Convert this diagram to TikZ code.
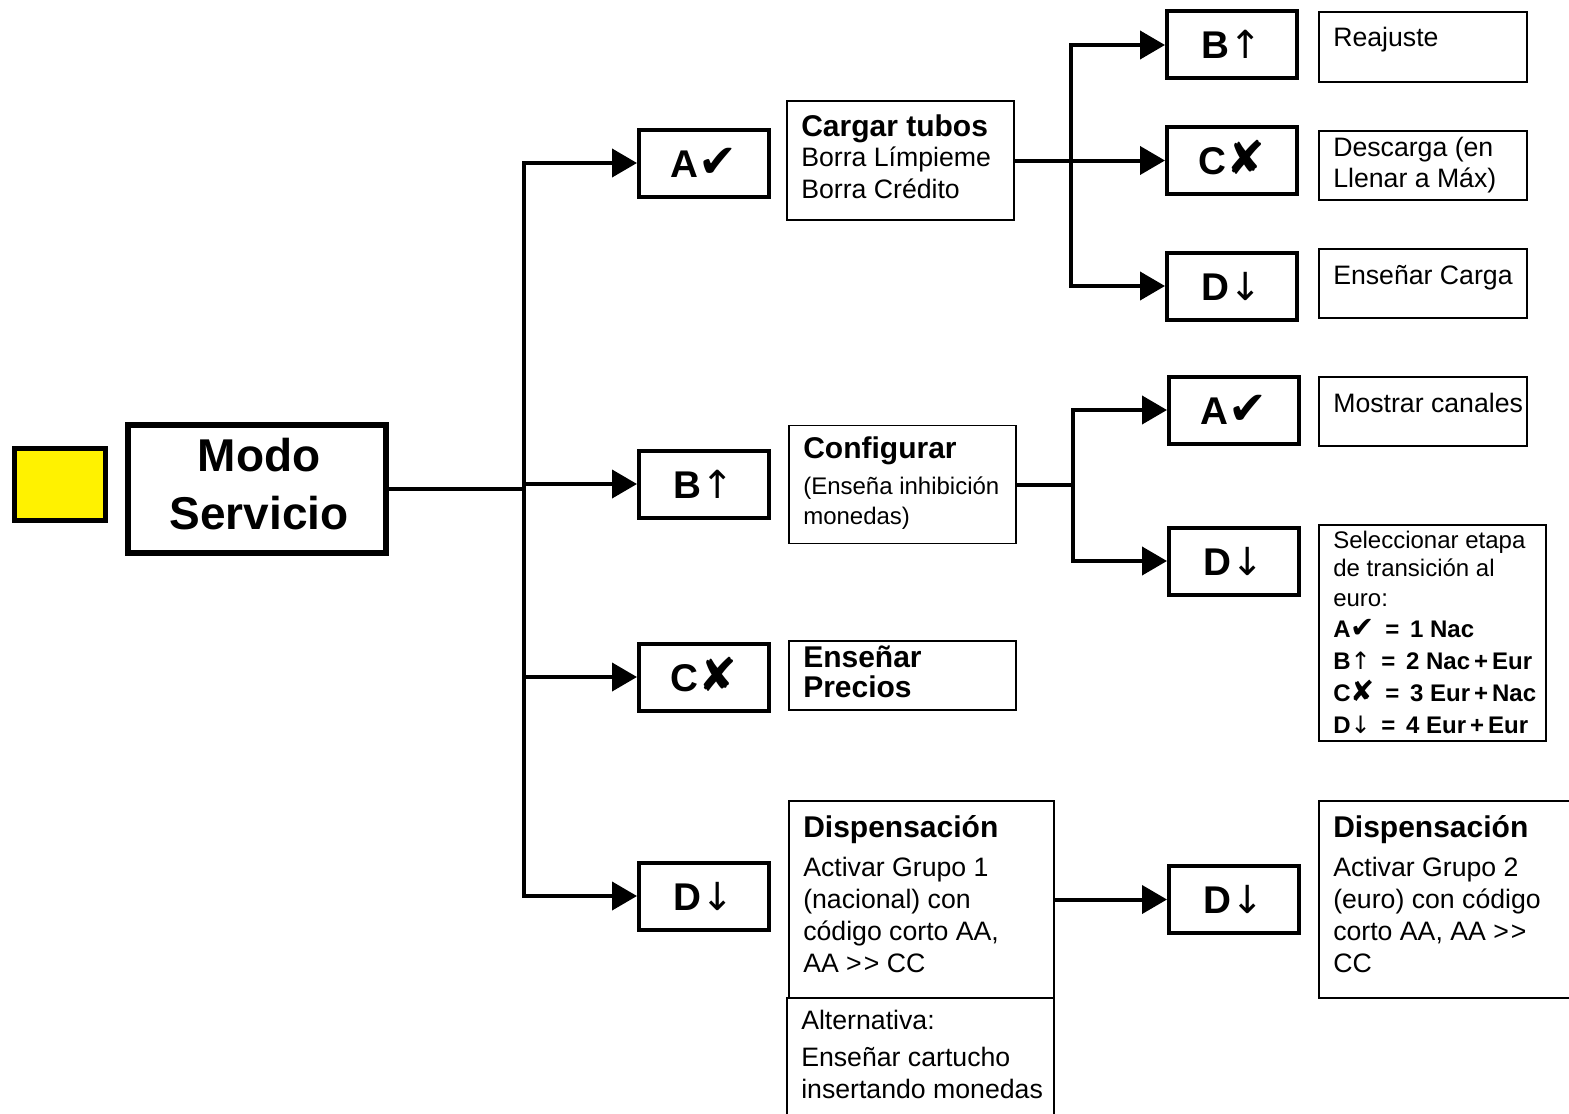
\documentclass[tikz,border=0pt]{standalone}
\usepackage{fontspec}
\setmainfont{Liberation Sans}
\newfontfamily\symfont[Scale=1.2]{DejaVu Sans}
\newfontfamily\arrfont{DejaVu Sans}
\usetikzlibrary{arrows.meta,calc}
\newcommand\fsz[1]{\fontsize{#1pt}{#1pt}\selectfont}
\newcommand\chk{{\symfont\mdseries ✔}}
\newcommand\crs{{\symfont\mdseries ✘}}
\newcommand\arrup{{\arrfont\mdseries ↑}}
\newcommand\arrdn{{\arrfont\mdseries ↓}}
\begin{document}
\begin{tikzpicture}[x=0.75pt,y=-0.75pt,line join=miter]
\tikzset{
  sz/.style 2 args={minimum width=#1*0.75pt, minimum height=#2*0.75pt},
  keybox/.style={draw, line width=3pt, sz={130}{67}, inner sep=0pt,
    text height=21pt, text depth=0pt, font=\fsz{29}\bfseries},
  infobox/.style={draw, line width=1.1pt, inner sep=0pt},
  ln/.style={anchor=base west, inner sep=0pt, font=\fsz{20}},
  hd/.style={anchor=base west, inner sep=0pt, font=\fsz{22.5}\bfseries},
  sm/.style={anchor=base west, inner sep=0pt, font=\fsz{18}},
  smb/.style={anchor=base west, inner sep=0pt, font=\fsz{18}\bfseries},
  conn/.style={line width=3pt},
  arr/.style={line width=3pt, -{Triangle[length=18.75pt,width=21pt]}},
}
\useasboundingbox (0,0) rectangle (1569,1113);

% start key and main mode box
\node[draw, fill=yellow, line width=3.75pt, sz={91}{72}] (start) at (60,484.5) {};
\node[draw, line width=4.5pt, sz={258}{128}, inner sep=0pt] (modo) at (257,489) {};
\node[inner sep=0pt, align=center, font=\fontsize{34.5pt}{43.5pt}\selectfont\bfseries]
  (modoT) at (259,484) {Modo\\Servicio};

% first level keys
\node[keybox] (ka) at (704,163) {A\chk};
\node[keybox] (kb) at (704,484) {B\arrup};
\node[keybox] (kc) at (704,677) {C\crs};
\node[keybox] (kd) at (704,896) {D\arrdn};

% first level descriptions
\node[infobox, sz={227}{119}] (tA) at (900.5,160.5) {};
\node[hd] (tA1) at (801,136) {Cargar tubos};
\node[ln] (tA2) at (801,166) {Borra Límpieme};
\node[ln] (tA3) at (801,198) {Borra Crédito};

\node[infobox, sz={227}{118}] (tB) at (902.5,484.5) {};
\node[hd] (tB1) at (803,458) {Configurar};
\node[sm] (tB2) at (803,494) {(Enseña inhibición};
\node[sm] (tB3) at (803,524) {monedas)};

\node[infobox, sz={227}{69}] (tC) at (902.5,675.5) {};
\node[hd] (tC1) at (803,667) {Enseñar};
\node[hd] (tC2) at (803,697) {Precios};

\node[infobox, sz={265}{197}] (tD) at (921.5,899.5) {};
\node[hd] (tD1) at (803,837) {Dispensación};
\node[ln] (tD2) at (803,876) {Activar Grupo 1};
\node[ln] (tD3) at (803,908) {(nacional) con};
\node[ln] (tD4) at (803,940) {código corto AA,};
\node[ln] (tD5) at (803,972) {AA >\kern1.5pt> CC};

\node[infobox, sz={267}{130}] (tE) at (920.5,1063) {};
\node[ln] (tE1) at (801,1029) {Alternativa:};
\node[ln] (tE2) at (801,1066) {Enseñar cartucho};
\node[ln] (tE3) at (801,1098) {insertando monedas};

% second level keys after "Cargar tubos"
\node[keybox] (k2b) at (1232,45) {B\arrup};
\node[keybox] (k2c) at (1232,160.5) {C\crs};
\node[keybox] (k2d) at (1232,286) {D\arrdn};

\node[infobox, sz={208}{70}] (r1) at (1423,47) {};
\node[ln] (r1a) at (1333,47) {Reajuste};
\node[infobox, sz={208}{69}] (r2) at (1423,165.5) {};
\node[ln] (r2a) at (1333,156) {Descarga (en};
\node[ln] (r2b) at (1333,187) {Llenar a Máx)};
\node[infobox, sz={208}{69}] (r3) at (1423,283.5) {};
\node[ln] (r3a) at (1333,284) {Enseñar Carga};

% second level keys after "Configurar"
\node[keybox] (k3a) at (1234,410) {A\chk};
\node[keybox] (k3d) at (1234,561) {D\arrdn};

\node[infobox, sz={208}{69}] (s1) at (1423,411.5) {};
\node[ln] (s1a) at (1333,412) {Mostrar canales};
\node[infobox, sz={227}{216}] (s2) at (1432.5,633) {};
\node[sm] (s2a) at (1333,548) {Seleccionar etapa};
\node[sm] (s2b) at (1333,576) {de transición al};
\node[sm] (s2c) at (1333,606) {euro:};
\node[smb] (s2d) at (1333,637) {A\chk\ \,=\ \,1 Nac};
\node[smb] (s2e) at (1333,669) {B\arrup\ \,=\ \,2 Nac\,+\,Eur};
\node[smb] (s2f) at (1333,701) {C\crs\ \,=\ \,3 Eur\,+\,Nac};
\node[smb] (s2g) at (1333,733) {D\arrdn\ \,=\ \,4 Eur\,+\,Eur};

% second level key after the first dispensing box
\node[keybox] (k4d) at (1234,899.5) {D\arrdn};
\node[infobox, sz={262}{197}] (u1) at (1450,899.5) {};
\node[hd] (u1a) at (1333,837) {Dispensación};
\node[ln] (u1b) at (1333,876) {Activar Grupo 2};
\node[ln] (u1c) at (1333,908) {(euro) con código};
\node[ln] (u1d) at (1333,940) {corto AA, AA >\kern1.5pt> };
\node[ln] (u1e) at (1333,972) {CC};

% connectors
\coordinate (j1) at ($(modo.east)+(135,0)$);
\draw[conn] (modo.east) -- (j1);
\foreach \k in {ka,kb,kc,kd} \draw[arr] (j1) |- (\k.west);

\coordinate (j2) at ($(tA.east)+(56,0)$);
\draw[conn] (tA.east) -- (j2);
\foreach \k in {k2b,k2c,k2d} \draw[arr] (j2) |- (\k.west);

\coordinate (j3) at ($(tB.east)+(56,0)$);
\draw[conn] (tB.east) -- (j3);
\foreach \k in {k3a,k3d} \draw[arr] (j3) |- (\k.west);

\draw[arr] (tD.east) -- (k4d.west);
\end{tikzpicture}
\end{document}
